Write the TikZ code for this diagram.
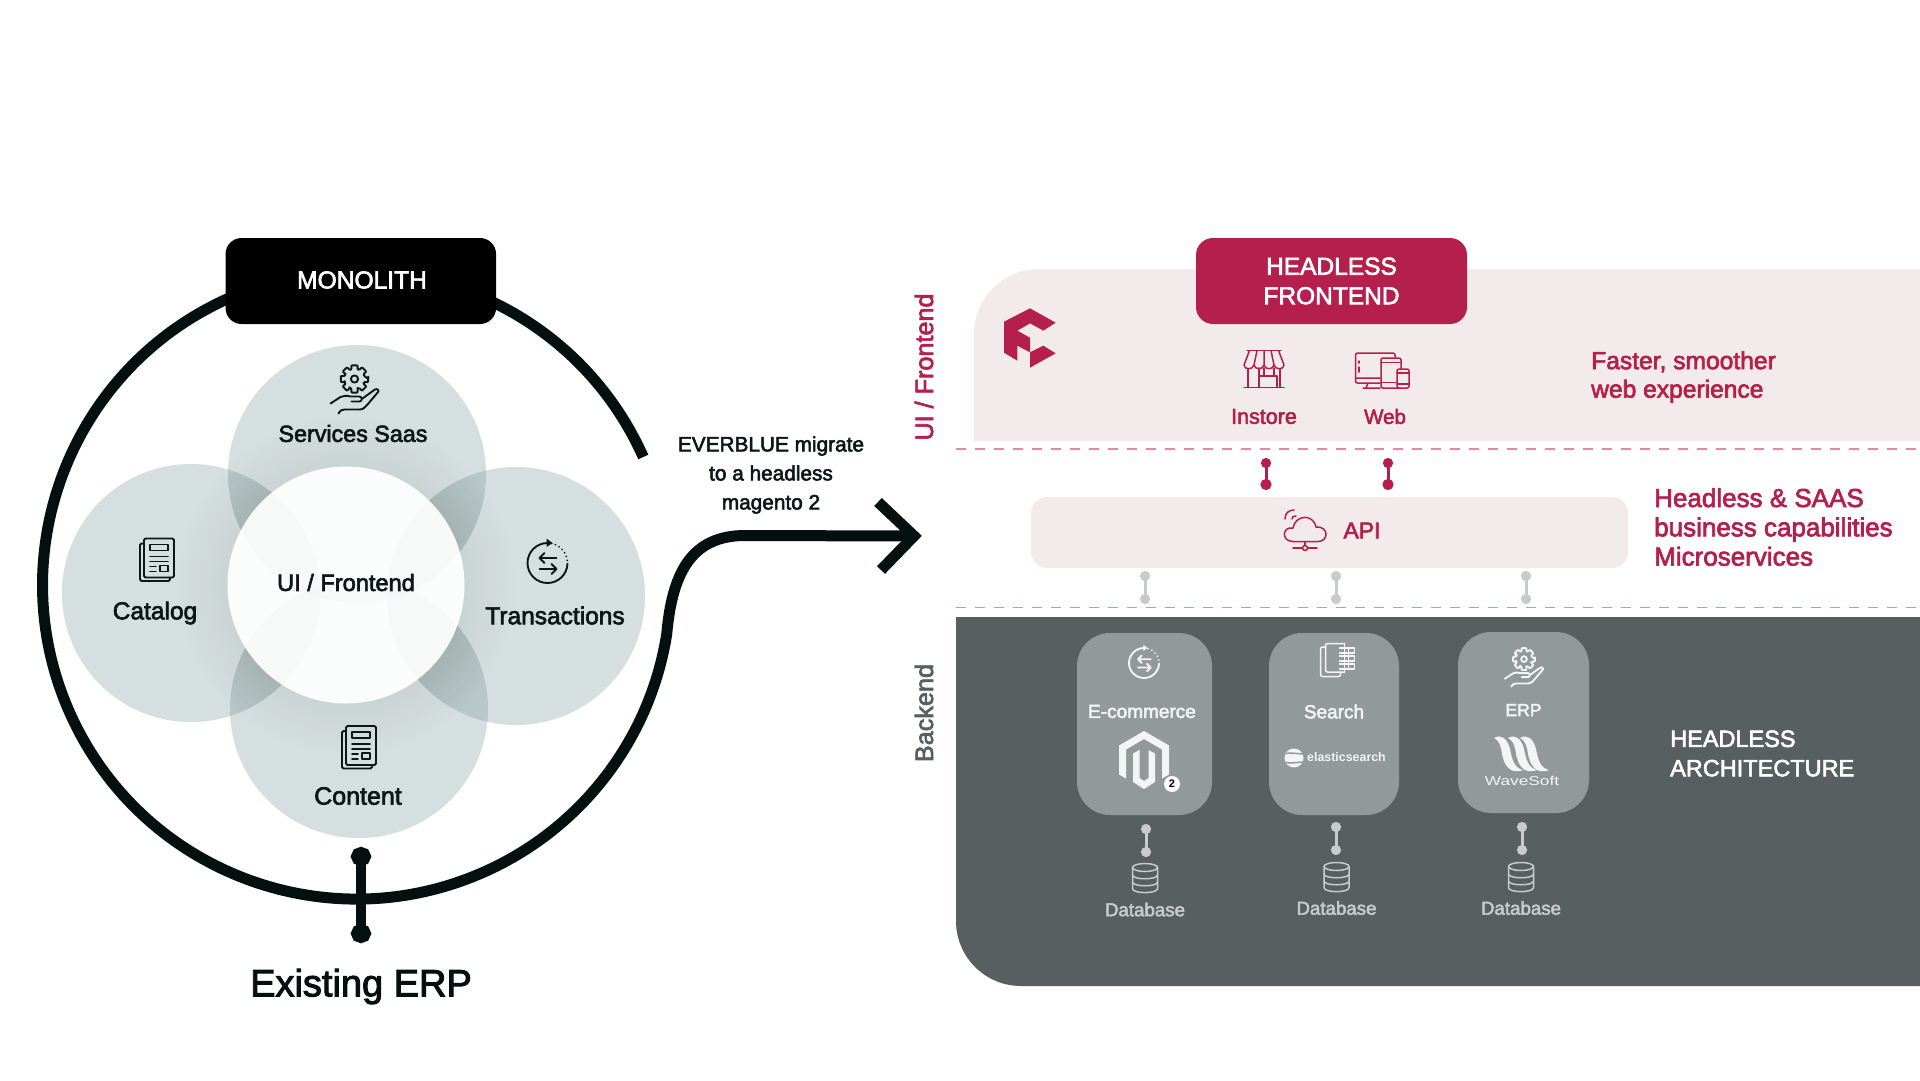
\documentclass[tikz,border=0pt]{standalone}
\usepackage{fontspec}
\setmainfont{Liberation Sans}[FakeBold=2.6]
\newfontfamily\wsfont{Liberation Sans}[FakeStretch=1.35]
\newfontfamily\plainf{Liberation Sans}
\usetikzlibrary{arrows.meta,fadings,calc}
\definecolor{ink}{HTML}{0B1717}
\definecolor{ringc}{HTML}{04100F}
\definecolor{crim}{HTML}{B51F4D}
\definecolor{pale}{HTML}{F3EAEC}
\definecolor{dashc}{HTML}{E58AA5}
\definecolor{slate}{HTML}{575F60}
\definecolor{cardc}{HTML}{929999}
\definecolor{petal}{HTML}{5F8383}
\definecolor{soft}{HTML}{C8CBCB}
\definecolor{snow}{HTML}{F3F4F4}
\newcommand{\fz}[2]{\fontsize{#1}{#2}\selectfont}
\tikzfading[name=cfade, inner color=transparent!84, outer color=transparent!100]
\tikzset{
 lbl/.style={inner sep=0pt,align=center},
 lft/.style={inner sep=0pt,align=left,anchor=west},
 ringline/.style={line width=11pt,draw=ringc},
 redbell/.style={draw=crim,line width=3pt,{Circle[length=10pt,width=10pt]}-{Circle[length=11pt,width=11pt]}},
 greybell/.style={draw=soft,line width=3pt,{Circle[length=10pt,width=10pt]}-{Circle[length=10pt,width=10pt]}},
 ic/.style={line width=1.9pt,line cap=round,line join=round},
 thin ic/.style={line width=1.5pt,line cap=round,line join=round},
 card/.style={fill=cardc,rounded corners=33pt},
 ico/.style={transform shape},
 gearhand/.pic={
  \begin{scope}[ic]
  \draw (0,-10.5) circle (3.6);
  \draw[rounded corners=0.8pt] (14,-10.5) \foreach \a in {0,45,...,315}{ -- ++(0,0) -- ($(0,-10.5)+(\a-13:14)$) -- ($(0,-10.5)+(\a+13:14)$) -- ($(0,-10.5)+(\a+17:10.2)$) -- ($(0,-10.5)+(\a+28:10.2)$) } -- cycle;
  \draw (-24,14) -- (-14,7.5) .. controls (-11,6) and (-8,6) .. (-4,7) -- (5,7) .. controls (8,7) and (8,12) .. (5,12) -- (-3,12);
  \draw (-16,24) .. controls (-14,21) and (-13,20) .. (-10,20) -- (5,20) .. controls (9,20) and (10,18) .. (13,15) -- (24,2) .. controls (24,-1) and (21,-1) .. (19,1) -- (8,9);
  \end{scope}},
 docicon/.pic={
  \begin{scope}[ic]
  \draw[rounded corners=1.5pt] (-13,-21) rectangle (17,18);
  \draw[rounded corners=1.5pt] (-13,-16) -- (-17,-16) -- (-17,21.5) -- (13,21.5) -- (13,18);
  \draw (-7,-15) rectangle (11,-9);
  \draw (-7,-3) -- (11,-3) (-7,2) -- (11,2) (-7,7) -- (-1,7) (-7,12) -- (-1,12);
  \draw (3,6) rectangle (11,12);
  \end{scope}},
 refresh/.pic={
  \begin{scope}[ic]
  \draw (0,-20) arc[start angle=-90,end angle=-358,radius=20];
  \draw[dash pattern=on 0.1pt off 4pt] (0,-20) arc[start angle=-90,end angle=0,radius=20];
  \fill (-1,-24.5) -- (5,-20) -- (-1,-16) -- cycle;
  \draw (9,-5) -- (-8,-5) (-3,-10) -- (-8,-5) -- (-3,0);
  \draw (-8,6) -- (9,6) (4,1) -- (9,6) -- (4,11);
  \end{scope}},
 storeicon/.pic={
  \begin{scope}[thin ic]
  \draw (-17,-18.5) -- (17,-18.5);
  \draw (-14.5,-18.5) -- (-20,-4) .. controls (-20,1) and (-11,1) .. (-10,-4) .. controls (-9,1) and (-1,1) .. (0,-4) .. controls (1,1) and (9,1) .. (10,-4) .. controls (11,1) and (20,1) .. (20,-4) -- (14.5,-18.5);
  \draw (-7,-18.5) -- (-10,-4) (0,-18.5) -- (0,-4) (7,-18.5) -- (10,-4);
  \draw (-20,18.5) -- (20,18.5);
  \draw (-16,0) -- (-16,18.5) (16,0) -- (16,18.5);
  \draw (-5,-1) -- (-5,18.5) (-5,7) -- (13,7) (13,7) -- (13,18.5);
  \draw (0,-1) -- (0,7) (10,-1) -- (10,7);
  \end{scope}},
 devicon/.pic={
  \begin{scope}[thin ic]
  \draw[rounded corners=2pt] (-2,13) -- (-26.5,13) -- (-26.5,-17) -- (13,-17) -- (13,-13);
  \draw (-26.5,8) -- (-2,8) (-14,13) -- (-16,18) (-19,18) -- (-2,18);
  \draw (-23,-9) -- (-23,-7) (-23,-3) -- (-23,2);
  \draw[rounded corners=2pt] (-1,-12) rectangle (19,18);
  \draw (-1,-7.5) -- (19,-7.5) (-1,12.5) -- (14,12.5);
  \draw[rounded corners=2pt,fill=pale] (15,-1) rectangle (27,18);
  \draw (15,3) -- (27,3) (15,14) -- (27,14);
  \end{scope}},
 cloudicon/.pic={
  \begin{scope}[thin ic]
  \draw (-12,11.5) .. controls (-24,11.5) and (-23,-4) .. (-12,-2) .. controls (-10,-15) and (8,-17) .. (11,-3) .. controls (24,-4) and (24,11.5) .. (13,11.5) -- cycle;
  \draw (0,11.5) -- (0,15.5) (-12,18) -- (-2.5,18) (2.5,18) -- (12,18);
  \draw (0,18) circle (2.5);
  \draw (-13,-11) .. controls (-13,-13) and (-12,-14) .. (-9,-14);
  \draw (-20,-11) .. controls (-20,-17) and (-16,-20) .. (-11,-20);
  \end{scope}},
 dbicon/.pic={
  \begin{scope}[thin ic]
  \draw (0,-10.5) ellipse (12.5 and 4);
  \draw (-12.5,-10.5) -- (-12.5,10.5) .. controls (-12.5,16) and (12.5,16) .. (12.5,10.5) -- (12.5,-10.5);
  \draw (-12.5,-3) .. controls (-12.5,2) and (12.5,2) .. (12.5,-3);
  \draw (-12.5,4) .. controls (-12.5,9) and (12.5,9) .. (12.5,4);
  \end{scope}},
 dociconb/.pic={
  \begin{scope}[thin ic]
  \draw[rounded corners=2pt] (7,-16.5) -- (-12,-16.5) -- (-12,12) -- (7,12);
  \draw[rounded corners=2pt] (-12,-13) -- (-17,-13) -- (-17,16.5) -- (3,16.5) -- (3,12);
  \draw (7,-16.5) -- (7,12);
  \draw (2,-12) -- (17,-12) -- (17,-7) -- (2,-7) (2,-4) -- (17,-4) -- (17,1) -- (2,1) (2,4) -- (17,4) -- (17,9) -- (2,9) (11,-12) -- (11,9);
  \end{scope}}
}
\begin{document}
\begin{tikzpicture}[x=1pt,y=1pt,yscale=-1]
\useasboundingbox (0,0) rectangle (1920,1080);
\fill[white] (0,0) rectangle (1920,1080);

% ---- circles ----
\foreach \c in {(357,474),(191,593),(516,596),(359,709)}{
  \fill[petal,opacity=.25] \c circle (129);
}
\foreach \c in {(357,474),(191,593),(516,596),(359,709)}{
  \begin{scope}
  \clip \c circle (129);
  \fill[black,path fading=cfade] (346,585) circle (170);
  \end{scope}
}
\node[circle,minimum size=237pt,inner sep=0pt,fill=white] (core) at (346,585) {};
\begin{scope}
\clip (346,585) circle (118.5);
\foreach \c in {(357,474),(191,593),(516,596),(359,709)}{
  \fill[petal,opacity=.025] \c circle (129);
}
\end{scope}
\node[lbl,text=ink,font=\fz{23.6}{28}] (uitext) at (346,582.5) {UI / Frontend};
\node[lbl,text=ink,font=\fz{23.3}{28}] (svc) at (353,433.5) {Services Saas};
\node[lbl,text=ink,font=\fz{24.5}{28}] (cat) at (155,613) {Catalog};
\node[lbl,text=ink,font=\fz{24.5}{28}] (trn) at (555,615.5) {Transactions};
\node[lbl,text=ink,font=\fz{25}{28}] (cnt) at (358,796) {Content};
\path[color=ink] pic[ico] at (354.5,389.5) {gearhand};
\path[color=ink] pic[ico] at (157,559.5) {docicon};
\path[color=ink] pic[ico] at (359,747) {docicon};
\path[color=ink] pic[ico] at (547.5,563) {refresh};

% ---- ring and arrow ----
\coordinate (ringstart) at (643.3,457);
\coordinate (arrowtip) at (914,536);
\coordinate (barbA) at (878,502);
\coordinate (barbB) at (881,570);
\draw[ringline] (ringstart) arc[start angle=-24.06,end angle=-351,radius=314]
  .. controls (672,575) and (690,535.5) .. (745,535.5) -- (arrowtip);
\draw[ringline,miter limit=10] (barbA) -- (arrowtip) -- (barbB);
\node[fill=black,text=white,rounded corners=16pt,minimum width=270.5pt,minimum height=86pt,inner sep=0pt] (mono) at (360.8,281) {};
\node[lbl,text=white,font=\fz{24.6}{28}] (monot) at (362,280) {MONOLITH};
\coordinate (erpA) at (361,847);
\coordinate (erpB) at (361,943);
\draw[draw=ringc,line width=9.5pt,{Circle[length=19pt,width=20pt]}-{Circle[length=19pt,width=20pt]}] (erpA) -- (erpB);
\node[lbl,text=ringc,font=\fz{38}{42}] (erp) at (361,986.5) {Existing ERP};
\node[lbl,text=ink,font=\fz{20.8}{29}] (mig) at (771,475) {EVERBLUE migrate\\to a headless\\magento 2};

% ---- right panels ----
\fill[pale] (974,441) -- (974,334) arc[start angle=180,end angle=270,radius=65] -- (1920,269) -- (1920,441) -- cycle;
\fill[slate] (956,617) -- (956,921) arc[start angle=180,end angle=90,radius=65] -- (1920,986) -- (1920,617) -- cycle;
\draw[dashc,line width=1.6pt,dash pattern=on 10pt off 9pt] (956,449) -- (1920,449);
\draw[dashc,line width=1.6pt,dash pattern=on 10pt off 9pt] (956,607.5) -- (1920,607.5);
\node[fill=crim,text=white,rounded corners=17pt,minimum width=271pt,minimum height=86pt,inner sep=0pt,align=center,font=\fz{24.5}{29.5}] (hf) at (1331.5,281) {HEADLESS\\FRONTEND};
\begin{scope}[shift={(940,220)},scale=1/3]
\fill[crim] (192,305) -- (270,265) -- (347,308) -- (310,332) -- (270,310) -- (232,332) -- (270,353) -- (270,397) -- (232,377) -- (232,422) -- (192,398) -- cycle;
\fill[crim] (270,397) -- (310,377) -- (347,400) -- (270,443) -- cycle;
\end{scope}
\path[color=crim] pic[ico] at (1264,369) {storeicon};
\path[color=crim] pic[ico] at (1382,370) {devicon};
\node[lbl,text=crim,font=\fz{21.5}{25}] (inst) at (1264,416.5) {Instore};
\node[lbl,text=crim,font=\fz{20.5}{25}] (web) at (1385,416.5) {Web};
\node[lft,text=crim,font=\fz{24.6}{28.5}] (fast) at (1591,377) {Faster, smoother\\web experience};
\node[lbl,text=crim,rotate=90,font=\fz{25.2}{28}] (uif) at (924,367) {UI / Frontend};
\node[lbl,text=slate,rotate=90,font=\fz{25.2}{28}] (bk) at (924,713) {Backend};

\node[fill=pale,rounded corners=16pt,minimum width=597pt,minimum height=71pt,inner sep=0pt] (apibox) at (1329.5,532.5) {};
\path[color=crim] pic[ico] at (1305,530) {cloudicon};
\node[lbl,text=crim,font=\fz{23}{28}] (api) at (1362,530.5) {API};
\node[lft,text=crim,font=\fz{26}{29.3}] (hs) at (1654,527) {Headless \& SAAS\\business capabilities\\Microservices};
\coordinate (ra1) at (1266,458);
\coordinate (rb1) at (1266,490);
\coordinate (ra2) at (1388,458);
\coordinate (rb2) at (1388,490);
\draw[redbell] (ra1) -- (rb1);
\draw[redbell] (ra2) -- (rb2);

\coordinate (ga1) at (1145,571);
\coordinate (gb1) at (1145,604);
\coordinate (ga2) at (1336,571);
\coordinate (gb2) at (1336,604);
\coordinate (ga3) at (1526,571);
\coordinate (gb3) at (1526,604);
\draw[greybell] (ga1) -- (gb1);
\draw[greybell] (ga2) -- (gb2);
\draw[greybell] (ga3) -- (gb3);

% ---- backend ----
\fill[card] (1077,633) rectangle (1212,815);
\fill[card] (1269,633) rectangle (1399,815);
\fill[card] (1458,632) rectangle (1589,813);
\node[lbl,text=snow,font=\fz{19}{22}] (ec) at (1142,711.5) {E-commerce};
\node[lbl,text=snow,font=\fz{19}{22}] (se) at (1334,711.5) {Search};
\node[lbl,text=snow,font=\fz{17.5}{22}] (er) at (1523.5,710) {ERP};
\path[color=snow] pic[ico,scale=.75] at (1144,663) {refresh};
\path[color=snow] pic[ico] at (1337.5,660) {dociconb};
\path[color=snow] pic[ico,scale=.8] at (1524,667.5) {gearhand};
\begin{scope}[shift={(1144,760)}]
\fill[snow] (0,-29) -- (25,-14.5) -- (25,14.5) -- (18,18.5) -- (18,-10.5) -- (0,-21) -- (-18,-10.5) -- (-18,18.5) -- (-25,14.5) -- (-25,-14.5) -- cycle;
\fill[snow] (-11,-6.5) -- (-4.5,-10) -- (-4.5,18) -- (0,21) -- (4.5,18) -- (4.5,-10) -- (11,-6.5) -- (11,22) -- (0,29) -- (-11,22) -- cycle;
\end{scope}
\node[circle,fill=white,minimum size=16pt,inner sep=0pt,text=black,font=\plainf\fz{11}{12}\bfseries] (bdg) at (1172,784) {2};
\begin{scope}
\clip (1294,758) circle (9.5);
\fill[snow] (1294,758) circle (9.5);
\draw[cardc,line width=1.5pt] (1283,754) .. controls (1290,752) and (1298,754) .. (1305,754);
\draw[cardc,line width=1.5pt] (1283,762) .. controls (1290,764) and (1298,762) .. (1305,762);
\end{scope}
\node[lbl,text=snow,font=\plainf\fz{12.4}{14}\bfseries] (el) at (1346.5,757) {elasticsearch};
\begin{scope}[shift={(1494,737)}]
\foreach \dx in {0,14,26}{
\fill[snow] (\dx,1) .. controls (\dx+7,-3) and (\dx+13,1) .. (\dx+16,12) .. controls (\dx+18,22) and (\dx+20,31) .. (\dx+29,33) .. controls (\dx+15,38) and (\dx+10,27) .. (\dx+8,17) .. controls (\dx+7,9) and (\dx+5,3) .. (\dx,1) -- cycle;
}
\end{scope}
\node[lbl,text=snow,font=\wsfont\fz{12.8}{14}] (ws) at (1522,781) {WaveSoft};
\coordinate (da1) at (1146,824);
\coordinate (db1) at (1146,857);
\coordinate (da2) at (1336,822);
\coordinate (db2) at (1336,855);
\coordinate (da3) at (1522,822);
\coordinate (db3) at (1522,855);
\draw[greybell] (da1) -- (db1);
\draw[greybell] (da2) -- (db2);
\draw[greybell] (da3) -- (db3);
\path[color=soft] pic[ico] at (1145,878) {dbicon};
\path[color=soft] pic[ico] at (1336.5,877) {dbicon};
\path[color=soft] pic[ico] at (1521,877) {dbicon};
\node[lbl,text=soft,font=\fz{18.7}{22}] (d1) at (1145,909.5) {Database};
\node[lbl,text=soft,font=\fz{18.7}{22}] (d2) at (1336.5,908) {Database};
\node[lbl,text=soft,font=\fz{18.7}{22}] (d3) at (1521,908) {Database};
\node[lft,text=white,font=\fz{23.5}{29.4}] (ha) at (1670,753.5) {HEADLESS\\ARCHITECTURE};
\end{tikzpicture}
\end{document}
